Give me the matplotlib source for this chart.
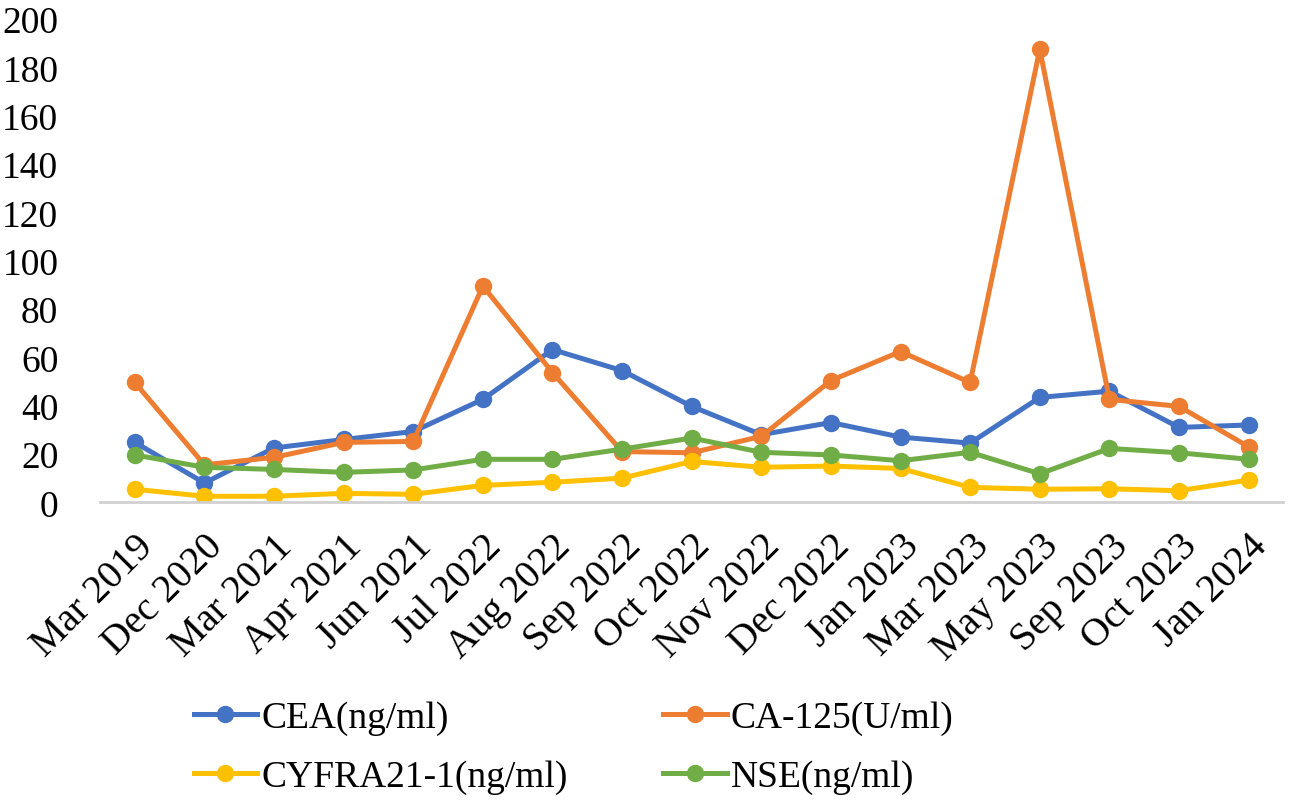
import numpy as np
import matplotlib.pyplot as plt

dates = ['Mar 2019', 'Dec 2020', 'Mar 2021', 'Apr 2021', 'Jun 2021', 'Jul 2022',
         'Aug 2022', 'Sep 2022', 'Oct 2022', 'Nov 2022', 'Dec 2022', 'Jan 2023',
         'Mar 2023', 'May 2023', 'Sep 2023', 'Oct 2023', 'Jan 2024']

cea    = [24.8, 8.0, 22.5, 26.0, 29.3, 42.6, 63.2, 54.5, 39.7, 28.0, 33.0, 27.0,
          24.5, 43.4, 46.0, 31.0, 32.0]
ca125  = [49.6, 15.5, 18.6, 24.8, 25.2, 89.5, 53.7, 21.0, 20.5, 27.3, 50.4, 62.4,
          49.6, 187.5, 42.6, 39.7, 23.0]
cyfra  = [5.4, 2.5, 2.5, 3.7, 3.3, 7.0, 8.3, 10.0, 16.9, 14.5, 15.0, 14.0,
          6.2, 5.4, 5.6, 4.8, 9.2]
nse    = [19.6, 14.5, 13.6, 12.4, 13.4, 17.8, 17.8, 22.0, 26.6, 20.7, 19.6, 17.2,
          20.7, 11.8, 22.3, 20.5, 17.8]

series = [
    ('CEA(ng/ml)', cea, '#4472C4'),
    ('CA-125(U/ml)', ca125, '#ED7D31'),
    ('CYFRA21-1(ng/ml)', cyfra, '#FFC000'),
    ('NSE(ng/ml)', nse, '#70AD47'),
]

plt.rcParams['font.family'] = ['Liberation Serif', 'DejaVu Serif']

fig = plt.figure(figsize=(12.99, 8.04), dpi=100)
ax = fig.add_axes([0.077, 0.374, 0.911, 0.601])

x = np.arange(len(dates))
handles = {}
for name, vals, color in series:
    h, = ax.plot(x, vals, color=color, lw=3.6, marker='o', ms=11.5, label=name)
    handles[name] = h

ax.set_xlim(-0.5, len(dates) - 0.5)
ax.set_ylim(0, 200)
ax.set_yticks(np.arange(0, 201, 20))
ax.set_xticks(x)
ax.set_xticklabels(dates, rotation=45, ha='right', rotation_mode='anchor')
ax.tick_params(axis='y', length=0, labelsize=27, pad=30)
ax.tick_params(axis='x', length=0, labelsize=28.5, pad=18)

for s in ['top', 'right', 'left']:
    ax.spines[s].set_visible(False)
ax.spines['bottom'].set_color('#D0D0D0')
ax.spines['bottom'].set_linewidth(2)

order = ['CEA(ng/ml)', 'CYFRA21-1(ng/ml)', 'CA-125(U/ml)', 'NSE(ng/ml)']
fig.legend([handles[k] for k in order], order, ncol=2, frameon=False,
           fontsize=27, loc='center left', bbox_to_anchor=(0.123, 0.069),
           handlelength=1.7, handletextpad=0.1, columnspacing=2.55,
           labelspacing=0.65)

fig.savefig('out.png', dpi=100)
